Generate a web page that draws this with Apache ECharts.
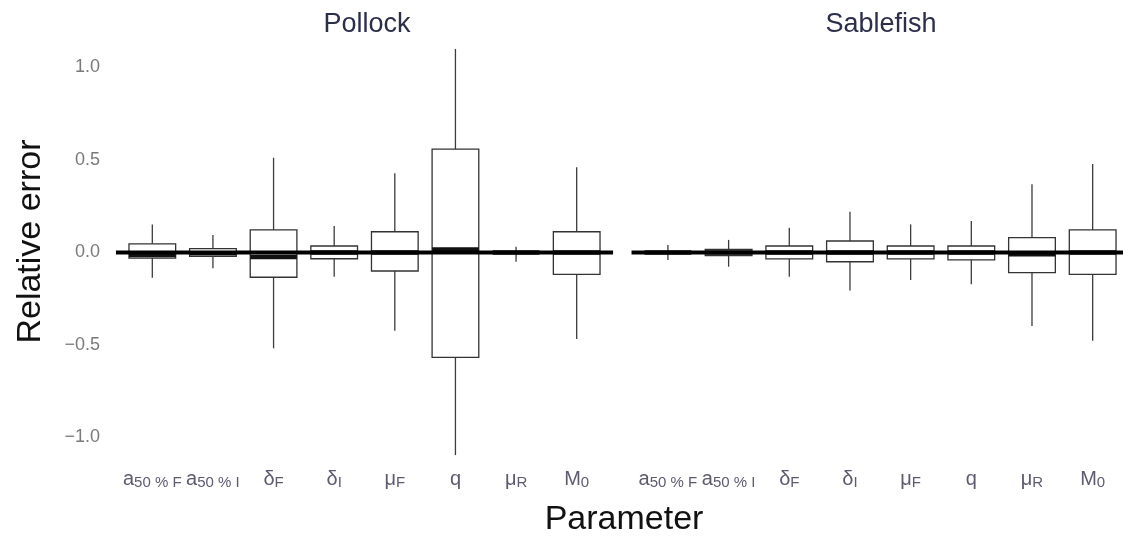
<!DOCTYPE html>
<html>
<head>
<meta charset="utf-8">
<script src="https://cdn.jsdelivr.net/npm/echarts@6/dist/echarts.min.js"></script>
<style>
html,body{margin:0;padding:0;background:#fff;}
#chart{width:1123px;height:539px;}
</style>
</head>
<body>
<div id="chart"></div>
<script>
// ---- data ----
const categories = ['a50%F', 'a50%I', 'deltaF', 'deltaI', 'muF', 'q', 'muR', 'M0'];
const tickLabels = ['{m|a}{s|50 % F}', '{m|a}{s|50 % I}', '{m|δ}{s|F}', '{m|δ}{s|I}', '{m|μ}{s|F}', '{m|q}', '{m|μ}{s|R}', '{m|M}{s|0}'];
const yTicks = [-1, -0.5, 0, 0.5, 1];
const panels = ['Pollock', 'Sablefish'];

// [min, Q1, median, Q3, max] per parameter
const pollockMin = [-0.137, -0.085, -0.518, -0.131, -0.423, -1.095, -0.050, -0.468];
const pollockQ1  = [-0.030, -0.021, -0.134, -0.034, -0.100, -0.567, -0.005, -0.118];
const pollockMed = [-0.014, -0.004, -0.025,  0.000,  0.000,  0.016,  0.000,  0.000];
const pollockQ3  = [ 0.047,  0.021,  0.122,  0.035,  0.112,  0.559,  0.005,  0.112];
const pollockMax = [ 0.151,  0.095,  0.512,  0.143,  0.428,  1.100,  0.031,  0.460];

const sableMin = [-0.040, -0.077, -0.131, -0.206, -0.149, -0.172, -0.397, -0.477];
const sableQ1  = [-0.004, -0.017, -0.035, -0.050, -0.035, -0.040, -0.109, -0.118];
const sableMed = [ 0.000,  0.000,  0.000,  0.000,  0.000,  0.000, -0.010,  0.000];
const sableQ3  = [ 0.004,  0.017,  0.035,  0.062,  0.035,  0.035,  0.080,  0.122];
const sableMax = [ 0.040,  0.068,  0.134,  0.220,  0.152,  0.170,  0.369,  0.478];

// ---- build ----
function rows(mn, q1, md, q3, mx) {
  return categories.map((c, i) => [i, mn[i], q1[i], md[i], q3[i], mx[i]]);
}
const pollockData = rows(pollockMin, pollockQ1, pollockMed, pollockQ3, pollockMax);
const sableData = rows(sableMin, sableQ1, sableMed, sableQ3, sableMax);

const BOX_FRAC = 0.77;
const EXPAND = 0.6;
const FONT = '"Liberation Sans", Arial, Helvetica, sans-serif';

function renderBox(params, api) {
  const idx = api.value(0);
  const v = [1, 2, 3, 4, 5].map(k => api.value(k));
  const x = api.coord([idx, 0])[0];
  const band = api.size([1, 0])[0];
  const w = band * BOX_FRAC;
  const y = v.map(val => api.coord([idx, val])[1]);
  const wStyle = { stroke: '#3c3c3c', lineWidth: 1.3 };
  return {
    type: 'group',
    children: [
      { type: 'line', shape: { x1: x, y1: y[3], x2: x, y2: y[4] }, style: wStyle },
      { type: 'line', shape: { x1: x, y1: y[1], x2: x, y2: y[0] }, style: wStyle },
      { type: 'rect', shape: { x: x - w / 2, y: y[3], width: w, height: y[1] - y[3] },
        style: { fill: '#ffffff', stroke: '#333333', lineWidth: 1.3 } },
      { type: 'line', shape: { x1: x - w / 2, y1: y[2], x2: x + w / 2, y2: y[2] },
        style: { stroke: '#111111', lineWidth: 4.5 } }
    ]
  };
}

function renderZero(params, api) {
  const p = api.coord([0, 0]);
  const band = api.size([1, 0])[0];
  const n = categories.length;
  return {
    type: 'line',
    shape: { x1: p[0] - EXPAND * band, y1: p[1], x2: p[0] + (n - 1 + EXPAND) * band, y2: p[1] },
    style: { stroke: '#000000', lineWidth: 4 }
  };
}

const Y_MIN = -1.2, Y_MAX = 1.21;
const grids = [
  { left: 122, width: 485, top: 28.6, height: 445.9 },
  { left: 637.6, width: 485.6, top: 28.6, height: 445.9 }
];

const xAxes = grids.map((g, gi) => ({
  type: 'category', gridIndex: gi, data: categories,
  axisLine: { show: false }, axisTick: { show: false }, splitLine: { show: false },
  axisLabel: {
    interval: 0, hideOverlap: false, margin: -6,
    formatter: (val, i) => tickLabels[i],
    rich: {
      m: { fontSize: 20, color: '#5e5a70', fontFamily: FONT, lineHeight: 22 },
      s: { fontSize: 15, color: '#5e5a70', fontFamily: FONT, lineHeight: 14, verticalAlign: 'bottom' }
    }
  }
}));

const yAxes = grids.map((g, gi) => ({
  type: 'value', gridIndex: gi, min: Y_MIN, max: Y_MAX,
  axisLine: { show: false }, axisTick: { show: false }, splitLine: { show: false },
  axisLabel: gi === 0 ? {
    show: true, customValues: yTicks, margin: 22,
    formatter: v => v.toFixed(1).replace('-', '\u2212'),
    color: '#7a7a7a', fontSize: 18, fontFamily: FONT
  } : { show: false },
  name: gi === 0 ? 'Relative error' : '',
  nameLocation: 'middle', nameGap: 74, nameRotate: 90,
  nameTextStyle: { fontSize: 34, color: '#111111', fontFamily: FONT, padding: [0, 0, 0, 20] }
}));

const series = [];
[pollockData, sableData].forEach((d, gi) => {
  series.push({
    type: 'custom', xAxisIndex: gi, yAxisIndex: gi, data: d, renderItem: renderBox,
    encode: { x: 0, y: [1, 2, 3, 4, 5] }, clip: false, z: 2, silent: true
  });
  series.push({
    type: 'custom', xAxisIndex: gi, yAxisIndex: gi, data: [[0, 0]], renderItem: renderZero,
    encode: { x: 0, y: 1 }, clip: false, z: 3, silent: true
  });
});

const option = {
  backgroundColor: '#ffffff',
  animation: false,
  title: [
    { text: panels[0], left: 362, top: 6, textAlign: 'center',
      textStyle: { fontSize: 27, fontWeight: 'normal', color: '#2b2f4a', fontFamily: FONT } },
    { text: panels[1], left: 876, top: 6, textAlign: 'center',
      textStyle: { fontSize: 27, fontWeight: 'normal', color: '#2b2f4a', fontFamily: FONT } },
    { text: 'Parameter', left: 619, top: 498, textAlign: 'center',
      textStyle: { fontSize: 34, fontWeight: 'normal', color: '#111111', fontFamily: FONT } }
  ],
  grid: grids,
  xAxis: xAxes,
  yAxis: yAxes,
  series: series
};

const chart = echarts.init(document.getElementById('chart'), null, { renderer: 'canvas' });
chart.setOption(option);
</script>
</body>
</html>
